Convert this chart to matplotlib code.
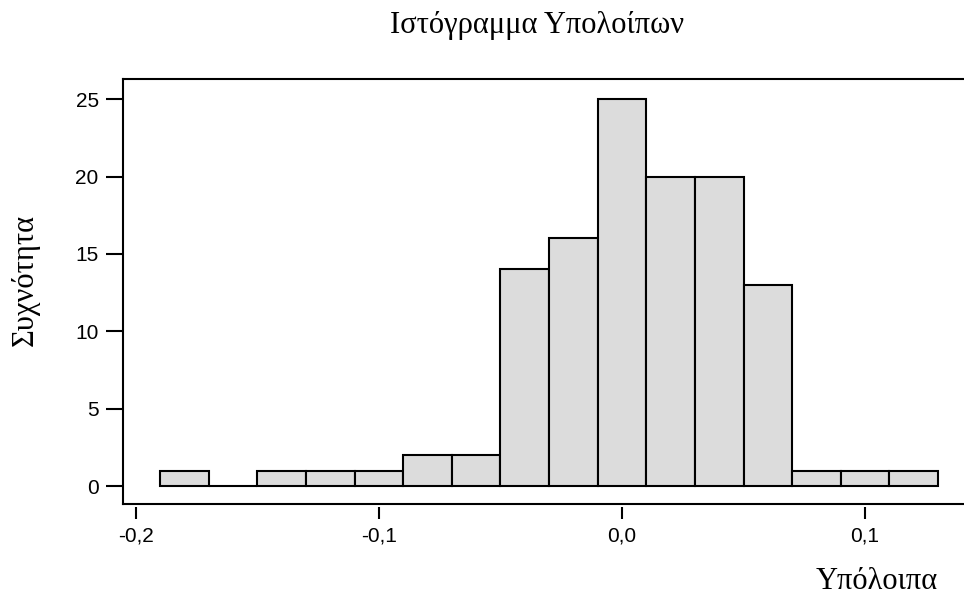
import numpy as np
import matplotlib
matplotlib.use('Agg')
import matplotlib.pyplot as plt

# histogram of residuals: bin edges and counts per bin
bin_edges = [-0.19, -0.17, -0.15, -0.13, -0.11, -0.09, -0.07, -0.05, -0.03,
             -0.01, 0.01, 0.03, 0.05, 0.07, 0.09, 0.11, 0.13]
counts = [1, 0, 1, 1, 1, 2, 2, 14, 16, 25, 20, 20, 13, 1, 1, 1]

x_ticks = [-0.2, -0.1, 0.0, 0.1]
x_tick_labels = ['-0,2', '-0,1', '0,0', '0,1']
y_ticks = [0, 5, 10, 15, 20, 25]

fig = plt.figure(figsize=(9.64, 5.98), dpi=100)
ax = fig.add_axes([0.1276, 0.1572, 0.8724, 0.7107])

edges = np.array(bin_edges)
ax.bar(edges[:-1], counts, width=np.diff(edges), align='edge',
       color='#dcdcdc', edgecolor='black', linewidth=1.5)

ax.set_xlim(-0.2053, 0.1407)
ax.set_ylim(-1.15, 26.3)

ax.spines['right'].set_visible(False)
for s in ['left', 'top']:
    ax.spines[s].set_linewidth(1.5)
# x ticks sit slightly below the frame line, so move the spine down
# and draw the frame line separately
ax.spines['bottom'].set_position(('outward', 2.5))
ax.spines['bottom'].set_visible(False)
ax.plot([0, 1], [0, 0], transform=ax.transAxes, color='black',
        linewidth=1.5, clip_on=False, solid_capstyle='projecting')

ax.set_xticks(x_ticks)
ax.set_xticklabels(x_tick_labels, family='Liberation Sans', fontsize=15)
ax.set_yticks(y_ticks)
ax.set_yticklabels([str(v) for v in y_ticks], family='Liberation Sans', fontsize=15)
ax.tick_params(axis='x', direction='out', length=8.5, width=1.5, pad=5)
ax.tick_params(axis='y', direction='out', length=12.5, width=1.5, pad=5)

fig.text(0.557, 0.958, 'Ιστόγραμμα Υπολοίπων', family='Liberation Serif',
         fontsize=22, ha='center', va='center')
fig.text(0.973, 0.027, 'Υπόλοιπα', family='Liberation Serif',
         fontsize=22, ha='right', va='center')
fig.text(0.026, 0.532, 'Συχνότητα', family='Liberation Serif',
         fontsize=22, ha='center', va='center', rotation=90)

fig.savefig('out.png', dpi=100)
